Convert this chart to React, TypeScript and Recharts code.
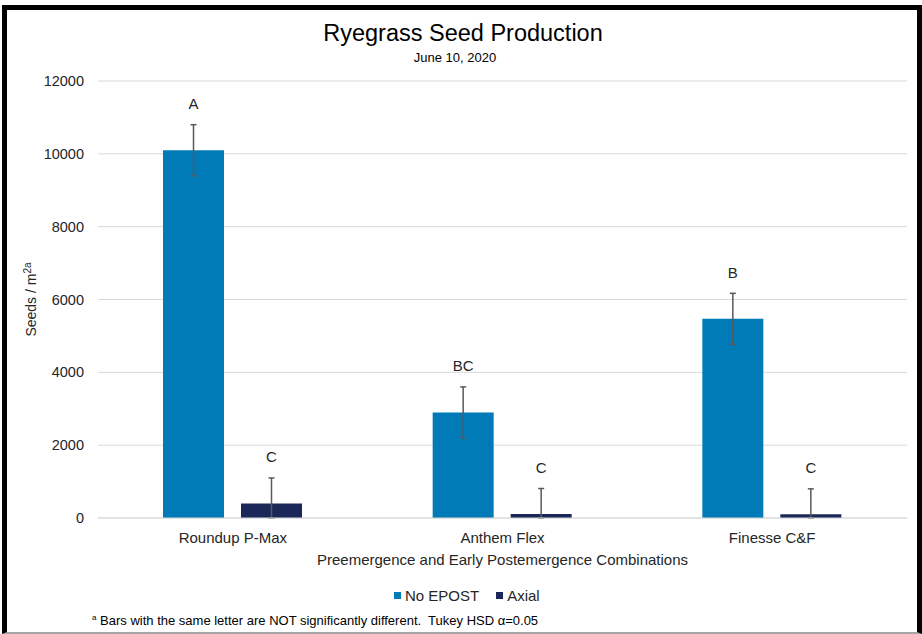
import { BarChart, Bar, XAxis, YAxis, CartesianGrid, ErrorBar, LabelList, Legend } from "recharts"

const categories = ["Roundup P-Max", "Anthem Flex", "Finesse C&F"]
const noEpost = [10100, 2900, 5470]
const noEpostErr = [700, 700, 700]
const noEpostLetters = ["A", "BC", "B"]
const axial = [400, 110, 100]
const axialErr = [700, 700, 700]
const axialLetters = ["C", "C", "C"]
const yTicks = [0, 2000, 4000, 6000, 8000, 10000, 12000]
const legendOrder = ["No EPOST", "Axial"]

const BLUE = "#007bb8"
const NAVY = "#1a2759"
const FONT = "'Liberation Sans', Arial, sans-serif"
const TEXT = "#262626"

// error bars can't go below the axis, so the lower half is cut at zero
const data = categories.map((name, i) => ({
  name,
  noEpost: noEpost[i],
  noEpostErr: [Math.min(noEpostErr[i], noEpost[i]), noEpostErr[i]],
  noEpostTop: noEpostErr[i],
  noEpostLetter: noEpostLetters[i],
  axial: axial[i],
  axialErr: [Math.min(axialErr[i], axial[i]), axialErr[i]],
  axialTop: axialErr[i],
  axialLetter: axialLetters[i],
}))

function YLabel(props: any) {
  const vb = props.viewBox
  const cx = vb.x - 2
  const cy = vb.y + vb.height / 2
  return (
    <text
      x={cx}
      y={cy}
      transform={`rotate(-90, ${cx}, ${cy})`}
      textAnchor="middle"
      fontSize={14}
      fill={TEXT}
      fontFamily={FONT}
    >
      <tspan>Seeds / m</tspan>
      <tspan dy={-5} fontSize={10}>2a</tspan>
    </text>
  )
}

function LegendContent(props: any) {
  const items = (props.payload || [])
    .filter((p: any) => p.type !== "none")
    .sort((a: any, b: any) => legendOrder.indexOf(a.value) - legendOrder.indexOf(b.value))
  return (
    <div style={{ display: "flex", alignItems: "center", fontSize: 15, lineHeight: 1, color: TEXT, fontFamily: FONT }}>
      {items.map((p: any) => (
        <span key={p.value} style={{ display: "flex", alignItems: "center", marginRight: 17 }}>
          <span style={{ width: 7, height: 7, background: p.color, marginRight: 4 }} />
          {p.value}
        </span>
      ))}
    </div>
  )
}

export default function App() {
  return (
    <div style={{ position: "absolute", left: 0, top: 0, width: 922, height: 634, background: "#fff", fontFamily: FONT }}>
      <div
        style={{
          position: "absolute",
          left: 2,
          top: 5,
          width: 920,
          height: 629,
          boxSizing: "border-box",
          borderLeft: "5px solid #000",
          borderTop: "5px solid #000",
          borderRight: "5px solid #000",
          borderBottom: "2px solid #a6a6a6",
        }}
      />
      <div style={{ position: "absolute", left: 0, width: 926, top: 22.3, textAlign: "center", fontSize: 23.5, lineHeight: 1, color: "#000" }}>
        Ryegrass Seed Production
      </div>
      <div style={{ position: "absolute", left: 0, width: 910, top: 50.6, textAlign: "center", fontSize: 13, lineHeight: 1, color: "#000" }}>
        June 10, 2020
      </div>
      <div style={{ position: "absolute", left: 0, top: 0 }}>
        <BarChart
          width={922}
          height={634}
          data={data}
          margin={{ top: 81, right: 15, bottom: 86, left: 38 }}
          barCategoryGap={65}
          barGap={17}
        >
          <CartesianGrid vertical={false} stroke="#d9d9d9" />
          <XAxis
            dataKey="name"
            height={30}
            axisLine={{ stroke: "#d9d9d9" }}
            tickLine={false}
            tickSize={6}
            tickMargin={8}
            tick={{ fontSize: 15, fill: TEXT, fontFamily: FONT }}
            label={{
              value: "Preemergence and Early Postemergence Combinations",
              position: "bottom",
              offset: 6,
              fontSize: 15,
              fill: TEXT,
              fontFamily: FONT,
            }}
          />
          <YAxis
            width={60}
            domain={[0, 12000]}
            ticks={yTicks}
            axisLine={false}
            tickLine={false}
            tickSize={6}
            tickMargin={8}
            tick={{ fontSize: 14.5, fill: TEXT, fontFamily: FONT }}
            label={<YLabel />}
          />
          <Legend
            layout="vertical"
            align="center"
            verticalAlign="middle"
            content={<LegendContent />}
            wrapperStyle={{ position: "absolute", top: 587.5, left: 394, width: "auto", height: "auto" }}
          />
          <Bar dataKey="noEpost" name="No EPOST" stackId="a" fill={BLUE} isAnimationActive={false}>
            <ErrorBar dataKey="noEpostErr" width={3} stroke="#595959" strokeWidth={1.5} direction="y" />
          </Bar>
          <Bar dataKey="noEpostTop" stackId="a" fill="transparent" legendType="none" isAnimationActive={false}>
            <LabelList dataKey="noEpostLetter" position="top" offset={15.5} fontSize={15} fill={TEXT} fontFamily={FONT} />
          </Bar>
          <Bar dataKey="axial" name="Axial" stackId="b" fill={NAVY} isAnimationActive={false}>
            <ErrorBar dataKey="axialErr" width={3} stroke="#595959" strokeWidth={1.5} direction="y" />
          </Bar>
          <Bar dataKey="axialTop" stackId="b" fill="transparent" legendType="none" isAnimationActive={false}>
            <LabelList dataKey="axialLetter" position="top" offset={15.5} fontSize={15} fill={TEXT} fontFamily={FONT} />
          </Bar>
        </BarChart>
      </div>
      <div style={{ position: "absolute", left: 92, top: 613.5, fontSize: 13, lineHeight: 1, color: "#000", whiteSpace: "pre" }}>
        <sup style={{ fontSize: 8 }}>a</sup> Bars with the same letter are NOT significantly different.  Tukey HSD α=0.05
      </div>
    </div>
  )
}
